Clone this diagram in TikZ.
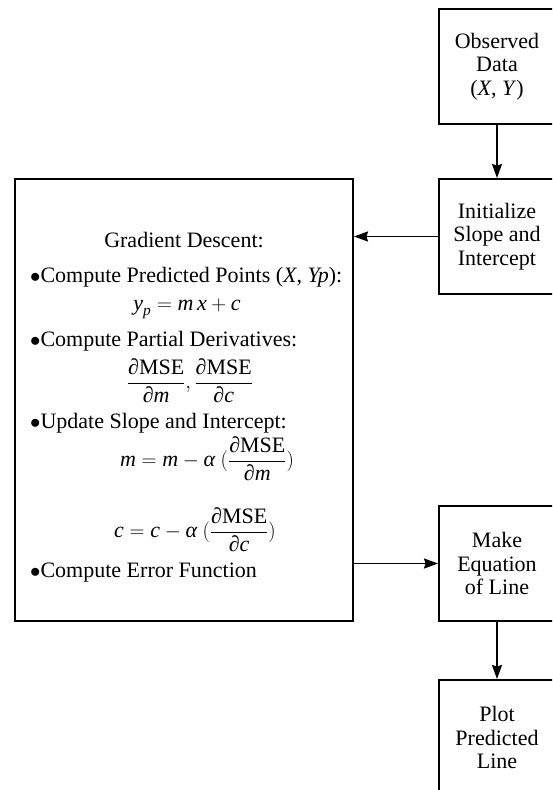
\documentclass[tikz,border=0pt]{standalone}
\usepackage{amsmath}
\usepackage{fontspec}
\setmainfont{Liberation Serif}
\usetikzlibrary{arrows.meta}
\newcommand\pdmse[1]{\dfrac{\textup{∂MSE}}{\textup{∂}\textit{#1}}}
\newcommand\iv[1]{\textit{#1}}
\begin{document}
\begin{tikzpicture}[x=1pt,y=-1pt,
  every node/.style={font=\fontsize{22}{23.5}\selectfont, inner sep=0pt},
  flowbox/.style={draw, line width=2pt, minimum width=116pt, minimum height=115pt, align=center},
  bigbox/.style={draw, line width=2pt, minimum width=338pt, minimum height=442pt},
  itemline/.style={anchor=base west},
  mathline/.style={anchor=center},
  flow/.style={line width=1.6pt, -{Stealth[length=14pt,width=10pt,inset=1.5pt]}}]
\useasboundingbox (0,0) rectangle (552,790);
\clip (0,0) rectangle (552,790);

% right-hand column of steps
\node[flowbox] (obs)  at (497,66.5)  {Observed\\Data\\(\iv{X}, \iv{Y})};
\node[flowbox] (init) at (497,236.5) {Initialize\\Slope and\\Intercept};
\node[flowbox] (make) at (497,563.5) {Make\\Equation\\of Line};
\node[flowbox] (plot) at (497,737.5) {Plot\\Predicted\\Line};

% gradient descent block
\node[bigbox] (gd) at (184,400) {};
\node (gdtitle) at (184,240) {Gradient Descent:};
\node[itemline] (i1) at (30,282) {$\bullet$Compute Predicted Points (\iv{X}, \iv{Yp}):};
\node[mathline] (e1) at (187,309) {$\iv{y}_{\iv{p}} = \iv{m}\,\iv{x} + \iv{c}$};
\node[itemline] (i2) at (30,346) {$\bullet$Compute Partial Derivatives:};
\node[mathline] (e2) at (190,381) {$\pdmse{m},\pdmse{c}$};
\node[itemline] (i3) at (30,428) {$\bullet$Update Slope and Intercept:};
\node[mathline] (e3) at (207,459) {$\iv{m} = \iv{m} - \iv{α}\ (\pdmse{m})$};
\node[mathline] (e4) at (195,530) {$\iv{c} = \iv{c} - \iv{α}\ (\pdmse{c})$};
\node[itemline] (i4) at (30,577) {$\bullet$Compute Error Function};

% connectors
\draw[flow] (obs.south) -- (init.north);
\draw[flow] (init.west) -- (init.west -| gd.east);
\draw[flow] (make.west -| gd.east) -- (make.west);
\draw[flow] (make.south) -- (plot.north);
\end{tikzpicture}
\end{document}
